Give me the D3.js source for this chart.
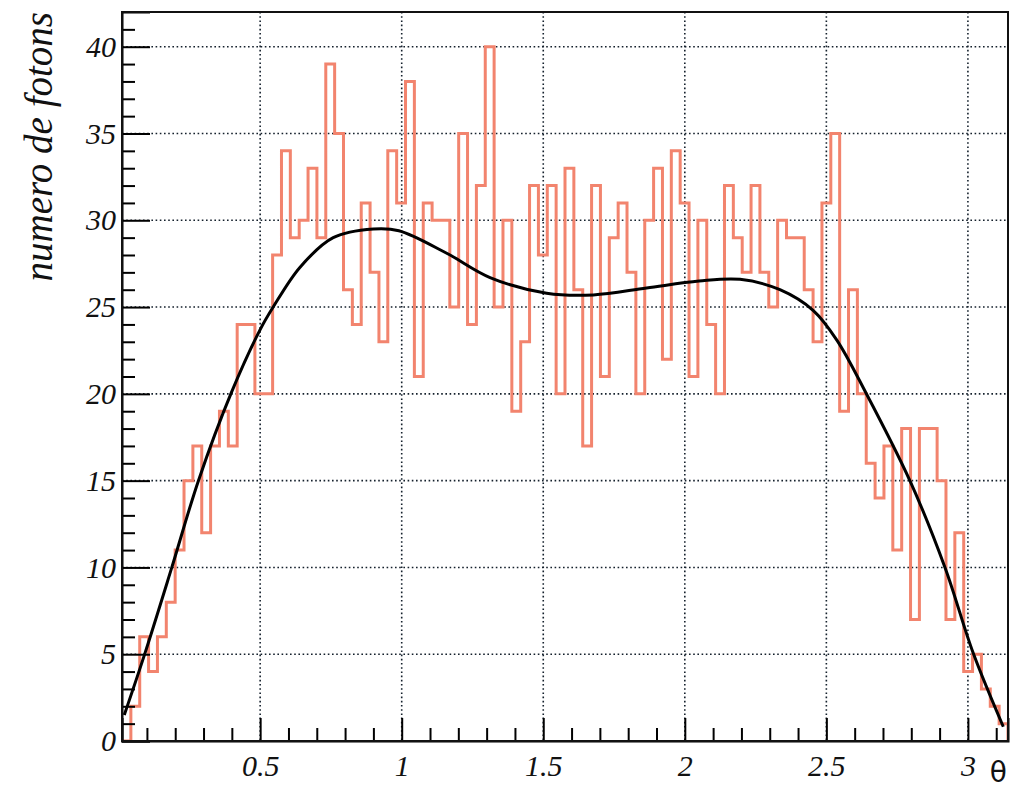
<!DOCTYPE html>
<html>
<head>
<meta charset="utf-8">
<script src="https://cdn.jsdelivr.net/npm/d3@7"></script>
<style>
  body { margin: 0; background: #fff; }
  svg { display: block; }
  .tick text { font-family: 'Liberation Serif', 'Times New Roman', serif; font-style: italic; }
</style>
</head>
<body>
<div class="container"></div>
<script>
// histogram counts, 100 bins between thetaRange[0] and thetaRange[1]
const binCounts = [
  0, 2, 6, 4, 6, 8, 11, 15, 17, 12,
  17, 19, 17, 24, 24, 20, 20, 28, 34, 29,
  30, 33, 29, 39, 35, 26, 24, 31, 27, 23,
  34, 31, 38, 21, 31, 30, 30, 25, 35, 24,
  32, 40, 25, 30, 19, 23, 32, 28, 32, 20,
  33, 26, 17, 32, 21, 29, 31, 27, 20, 30,
  33, 22, 34, 31, 21, 30, 24, 20, 32, 29,
  27, 32, 27, 25, 30, 29, 29, 26, 23, 31,
  35, 19, 26, 20, 16, 14, 17, 11, 18, 7,
  18, 18, 15, 7, 12, 4, 5, 3, 2, 1
]
const thetaRange = [0.012, 3.1416]
const countRange = [0, 42]

// fitted curve
const fitTheta = [0.02, 0.093, 0.188, 0.282, 0.399, 0.5, 0.546, 0.641, 0.758, 0.9, 0.99,
  1.159, 1.312, 1.512, 1.677, 1.865, 2.05, 2.195, 2.336, 2.454, 2.537, 2.64, 2.795, 2.919, 3.019, 3.125]
const fitValue = [1.5, 5.05, 10.0, 15.0, 20.1, 23.7, 25.0, 27.3, 29.0, 29.5, 29.4,
  28.1, 26.7, 25.8, 25.7, 26.1, 26.5, 26.6, 26.0, 24.8, 23.1, 20.05, 15.0, 10.0, 5.05, 0.82]

const xTicks = [0.5, 1, 1.5, 2, 2.5, 3]
const xTickLabels = ['0.5', '1', '1.5', '2', '2.5', '3']
const xMinorTicks = d3.range(1, 32).map((i) => i / 10)
const yTicks = [0, 5, 10, 15, 20, 25, 30, 35, 40]
const yMinorTicks = d3.range(0, 42)

const width = 1017
const height = 788
const margin = {top: 12, right: 9, bottom: 47, left: 122}

const svg = d3.select('.container')
  .append('svg')
  .attr('width', width)
  .attr('height', height)

const xScale = d3.scaleLinear()
  .domain(thetaRange)
  .range([margin.left, width - margin.right])

const yScale = d3.scaleLinear()
  .domain(countRange)
  .range([height - margin.bottom, margin.top])

svg.append('defs').append('clipPath')
  .attr('id', 'plot-clip')
  .append('rect')
  .attr('x', margin.left)
  .attr('y', margin.top)
  .attr('width', width - margin.left - margin.right)
  .attr('height', height - margin.top - margin.bottom)

// grid
const grid = svg.append('g').attr('id', 'grid')
  .attr('stroke', '#14202c')
  .attr('stroke-width', 1.6)
  .attr('stroke-dasharray', '1.6,2.6')

grid.selectAll('.vgrid')
  .data(xTicks)
  .enter()
  .append('line')
  .attr('x1', (d) => xScale(d))
  .attr('x2', (d) => xScale(d))
  .attr('y1', margin.top)
  .attr('y2', height - margin.bottom)

grid.selectAll('.hgrid')
  .data(yTicks.slice(1))
  .enter()
  .append('line')
  .attr('x1', margin.left)
  .attr('x2', width - margin.right)
  .attr('y1', (d) => yScale(d))
  .attr('y2', (d) => yScale(d))

// histogram outline
const nBins = binCounts.length
const binWidth = (thetaRange[1] - thetaRange[0]) / nBins
const stepPoints = [[thetaRange[0], 0]]
binCounts.forEach((v, i) => {
  stepPoints.push([thetaRange[0] + i * binWidth, v])
  stepPoints.push([thetaRange[0] + (i + 1) * binWidth, v])
})
stepPoints.push([thetaRange[1], 0])

const line = d3.line()
  .x((d) => xScale(d[0]))
  .y((d) => yScale(d[1]))

svg.append('path')
  .attr('id', 'histogram')
  .datum(stepPoints)
  .attr('clip-path', 'url(#plot-clip)')
  .attr('d', line)
  .attr('fill', 'none')
  .attr('stroke', '#f2846e')
  .attr('stroke-width', 3)

// fit
const fitLine = d3.line()
  .x((d) => xScale(d[0]))
  .y((d) => yScale(d[1]))
  .curve(d3.curveCatmullRom)

svg.append('path')
  .attr('id', 'fit')
  .datum(fitTheta.map((t, i) => [t, fitValue[i]]))
  .attr('clip-path', 'url(#plot-clip)')
  .attr('d', fitLine)
  .attr('fill', 'none')
  .attr('stroke', '#000')
  .attr('stroke-width', 3)

// axes
const yAxis = svg.append('g')
  .attr('id', 'y-axis')
  .attr('transform', `translate(${margin.left}, 0)`)
  .call(d3.axisLeft(yScale).tickValues(yTicks).tickSize(-28).tickPadding(6).tickFormat(d3.format('d')))
yAxis.selectAll('text').attr('font-size', '30px').attr('fill', '#111')
yAxis.selectAll('line').attr('stroke-width', 2)
yAxis.select('.domain').attr('stroke-width', 2)

svg.append('g')
  .attr('transform', `translate(${margin.left}, 0)`)
  .call(d3.axisLeft(yScale).tickValues(yMinorTicks.filter((d) => d % 5 !== 0)).tickSize(-13).tickFormat(''))
  .call((g) => g.select('.domain').remove())
  .selectAll('line').attr('stroke-width', 2)

const xAxis = svg.append('g')
  .attr('id', 'x-axis')
  .attr('transform', `translate(0, ${height - margin.bottom})`)
  .call(d3.axisBottom(xScale).tickValues(xTicks).tickSize(-23).tickPadding(14)
    .tickFormat((d, i) => xTickLabels[i]))
xAxis.selectAll('text').attr('font-size', '30px').attr('fill', '#111')
xAxis.selectAll('line').attr('stroke-width', 2)
xAxis.select('.domain').attr('stroke-width', 2)

svg.append('g')
  .attr('transform', `translate(0, ${height - margin.bottom})`)
  .call(d3.axisBottom(xScale).tickValues(xMinorTicks.filter((d) => Math.round(d * 10) % 5 !== 0)).tickSize(-13).tickFormat(''))
  .call((g) => g.select('.domain').remove())
  .selectAll('line').attr('stroke-width', 2)

// frame
svg.append('rect')
  .attr('x', margin.left)
  .attr('y', margin.top)
  .attr('width', width - margin.left - margin.right)
  .attr('height', height - margin.top - margin.bottom)
  .attr('fill', 'none')
  .attr('stroke', '#111')
  .attr('stroke-width', 2)

// titles
svg.append('text')
  .attr('id', 'y-label')
  .text('numero de fotons')
  .attr('transform', `translate(52, ${margin.top}) rotate(-90)`)
  .attr('text-anchor', 'end')
  .attr('font-family', "'Liberation Serif', 'Times New Roman', serif")
  .attr('font-style', 'italic')
  .attr('font-size', '39px')
  .attr('fill', '#111')

svg.append('text')
  .attr('id', 'x-label')
  .text('θ')
  .attr('x', width - 10)
  .attr('y', 782)
  .attr('text-anchor', 'end')
  .attr('font-family', "'DejaVu Sans', sans-serif")
  .attr('font-size', '28px')
  .attr('fill', '#111')
</script>
</body>
</html>
